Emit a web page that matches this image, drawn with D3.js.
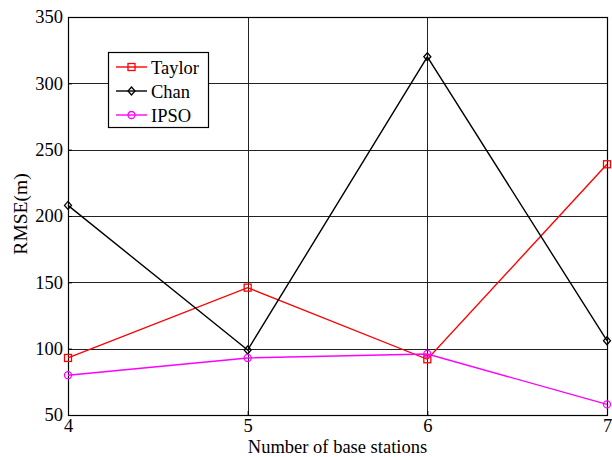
<!DOCTYPE html>
<html>
<head>
<meta charset="utf-8">
<script src="https://cdn.jsdelivr.net/npm/d3@7"></script>
<style>
  body { margin: 0; background: #fff; }
  text { font-family: "Liberation Serif", "Times New Roman", serif; fill: #000; }
</style>
</head>
<body>
<div id="chart"></div>
<script>
// Data
var stations = [4, 5, 6, 7];
var taylor = [93, 146, 92, 239];
var chan = [208, 99, 320, 106];
var ipso = [80, 93, 96, 58];
var yTicks = [50, 100, 150, 200, 250, 300, 350];
var seriesNames = ["Taylor", "Chan", "IPSO"];

var W = 612, H = 457;
var margin = { top: 17, right: 5, bottom: 42, left: 68 },
    width = W - margin.left - margin.right,
    height = H - margin.top - margin.bottom;

var svg = d3.select("#chart").append("svg")
    .attr("width", W).attr("height", H);
var g = svg.append("g")
    .attr("transform", "translate(" + margin.left + "," + margin.top + ")");

var x = d3.scaleLinear().domain([4, 7]).range([0, width]);
var y = d3.scaleLinear().domain([50, 350]).range([height, 0]);

// Gridlines
g.append("g").selectAll("line.gy")
    .data(yTicks).enter().append("line")
    .attr("x1", 0).attr("x2", width)
    .attr("y1", function(d) { return Math.round(y(d)) + 0.5; })
    .attr("y2", function(d) { return Math.round(y(d)) + 0.5; })
    .attr("stroke", "#222").attr("stroke-width", 1);
g.append("g").selectAll("line.gx")
    .data(stations).enter().append("line")
    .attr("y1", 0).attr("y2", height)
    .attr("x1", function(d) { return Math.round(x(d)) + 0.5; })
    .attr("x2", function(d) { return Math.round(x(d)) + 0.5; })
    .attr("stroke", "#222").attr("stroke-width", 1);

// Axes (ticks pointing inward)
var yAxis = g.append("g")
    .call(d3.axisLeft(y).tickValues(yTicks).tickSizeInner(-4).tickSizeOuter(0).tickPadding(5));
var xAxis = g.append("g")
    .attr("transform", "translate(0," + height + ")")
    .call(d3.axisBottom(x).tickValues(stations).tickFormat(d3.format("d")).tickSizeInner(-4).tickSizeOuter(0).tickPadding(4));
[yAxis, xAxis].forEach(function(a) {
    a.select(".domain").remove();
    a.selectAll("text").style("font-size", "18.5px").style("font-family", "Liberation Serif");
    a.selectAll("line").attr("stroke", "#000");
});

// Frame
g.append("rect")
    .attr("x", 0.5).attr("y", 0.5)
    .attr("width", width).attr("height", height)
    .attr("fill", "none").attr("stroke", "#000").attr("stroke-width", 1.2);

// Series
var series = [
    { name: "Taylor", values: taylor, color: "#ff0000", marker: "square" },
    { name: "Chan", values: chan, color: "#000000", marker: "diamond" },
    { name: "IPSO", values: ipso, color: "#ff00ff", marker: "circle" }
];

var line = d3.line()
    .x(function(d, i) { return x(stations[i]); })
    .y(function(d) { return y(d); });

function drawMarker(sel, type, color) {
    if (type === "square") {
        sel.append("rect").attr("x", -3.5).attr("y", -3.5).attr("width", 7).attr("height", 7)
            .attr("fill", "none").attr("stroke", color).attr("stroke-width", 1.3);
    } else if (type === "diamond") {
        sel.append("path").attr("d", "M0,-4L3.5,0L0,4L-3.5,0Z")
            .attr("fill", "none").attr("stroke", color).attr("stroke-width", 1.3);
    } else {
        sel.append("circle").attr("r", 3.5)
            .attr("fill", "none").attr("stroke", color).attr("stroke-width", 1.3);
    }
}

series.forEach(function(s) {
    g.append("path")
        .attr("d", line(s.values))
        .attr("fill", "none")
        .attr("stroke", s.color)
        .attr("stroke-width", 1.4);
    g.selectAll(null)
        .data(s.values).enter().append("g")
        .attr("transform", function(d, i) { return "translate(" + x(stations[i]) + "," + y(d) + ")"; })
        .each(function() { drawMarker(d3.select(this), s.marker, s.color); });
});

// Legend
var legend = svg.append("g").attr("transform", "translate(108,52)");
legend.append("rect")
    .attr("x", 0.5).attr("y", 0.5).attr("width", 100).attr("height", 75)
    .attr("fill", "#fff").attr("stroke", "#000").attr("stroke-width", 1.2);
series.forEach(function(s, i) {
    var ly = 15 + i * 24;
    var row = legend.append("g").attr("transform", "translate(0," + ly + ")");
    row.append("line").attr("x1", 8).attr("x2", 39).attr("y1", 0).attr("y2", 0)
        .attr("stroke", s.color).attr("stroke-width", 1.4);
    drawMarker(row.append("g").attr("transform", "translate(23.5,0)"), s.marker, s.color);
    row.append("text").attr("x", 43).attr("y", 6.5)
        .style("font-size", "18.5px").text(s.name);
});

// Axis titles
svg.append("text")
    .attr("x", margin.left + width / 2).attr("y", 452.5)
    .attr("text-anchor", "middle").style("font-size", "18.5px")
    .text("Number of base stations");
svg.append("text")
    .attr("transform", "translate(27," + 214 + ") rotate(-90)")
    .attr("text-anchor", "middle").style("font-size", "19.5px")
    .text("RMSE(m)");
</script>
</body>
</html>
